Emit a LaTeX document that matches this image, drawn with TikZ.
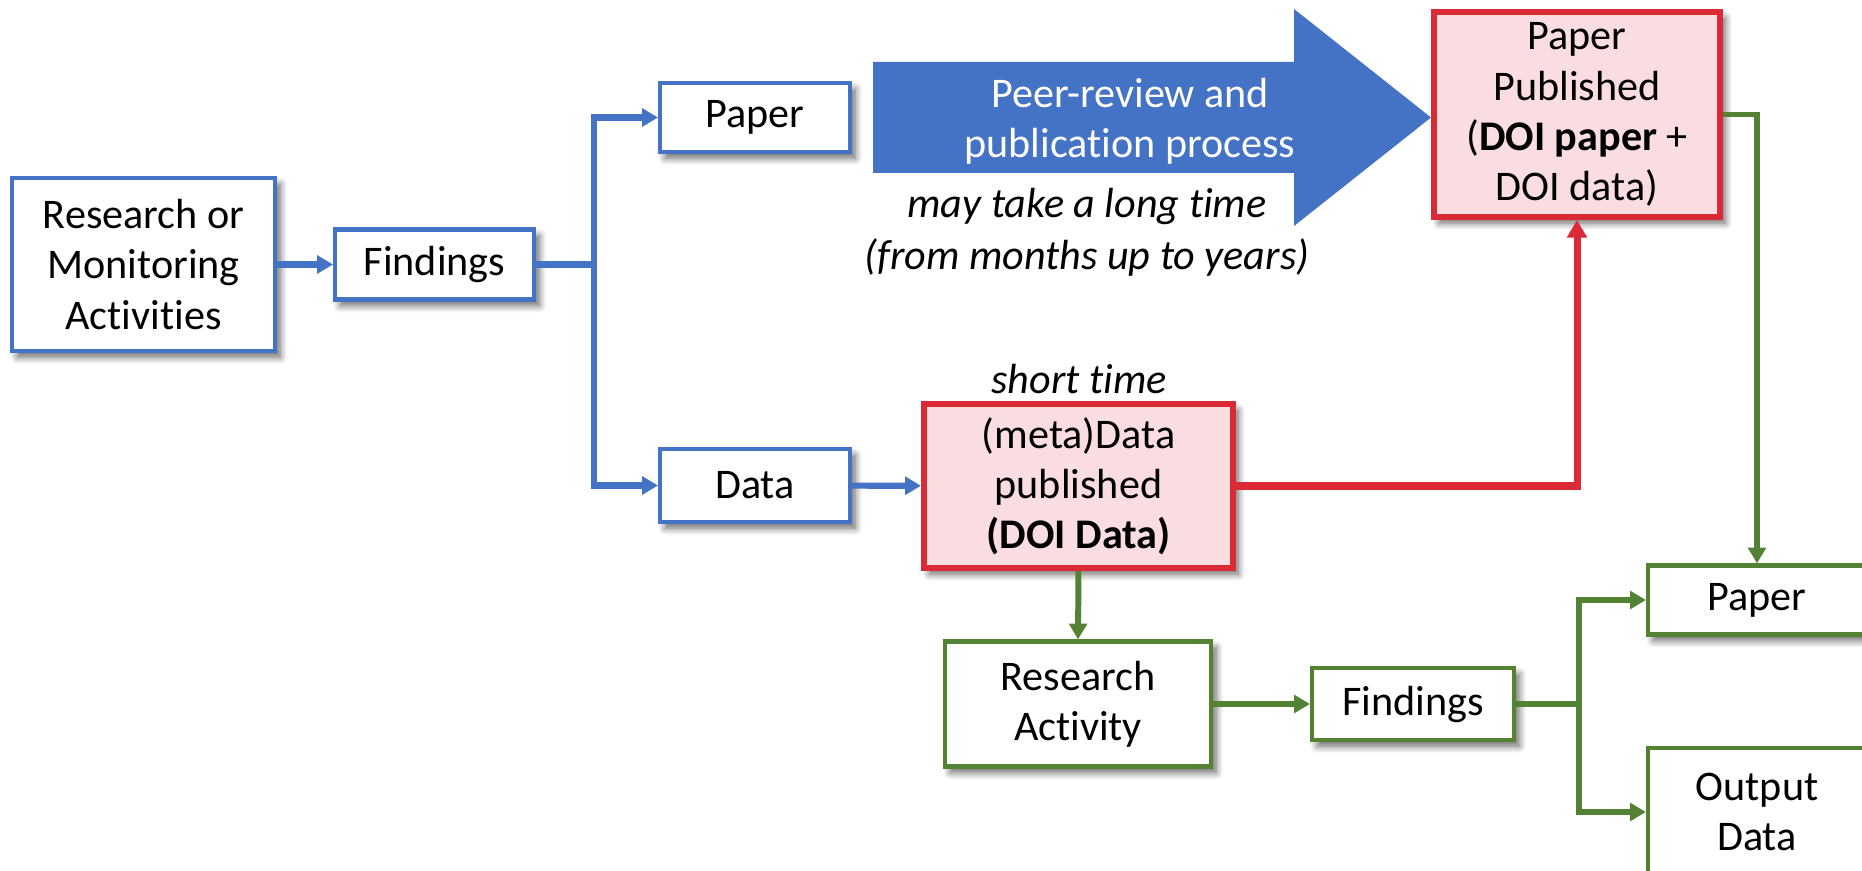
\documentclass[tikz,border=0pt]{standalone}
\usepackage{fontspec}
\setmainfont{Carlito}[Ligatures={NoCommon}]
\usetikzlibrary{arrows.meta,shadows.blur}
\definecolor{myblue}{HTML}{4472C4}
\definecolor{myred}{HTML}{DA2A35}
\definecolor{mypink}{HTML}{F9DDE1}
\definecolor{mygreen}{HTML}{548235}
\tikzset{
  txt/.style={align=center, inner sep=0pt, font=\fontsize{24}{28.5}\selectfont},
  itxt/.style={align=center, inner sep=0pt, font=\fontsize{24}{29.5}\selectfont\itshape},
  boxbase/.style={txt, blur shadow={shadow xshift=3pt, shadow yshift=-3.5pt, shadow blur radius=4pt, shadow blur steps=8, shadow opacity=60}},
  bluebox/.style={boxbase, draw=myblue, line width=2.3pt, fill=white},
  redbox/.style={boxbase, draw=myred, line width=3.5pt, fill=mypink},
  greenbox/.style={boxbase, draw=mygreen, line width=2.4pt, fill=white},
  blueline/.style={draw=myblue, line width=3.5pt},
  bluearrow/.style={blueline, -{Triangle[length=9pt,width=10pt]}},
  redarrow/.style={draw=myred, line width=4pt, -{Triangle[length=10pt,width=11pt]}},
  greenline/.style={draw=mygreen, line width=3.4pt},
  greenarrow/.style={greenline, -{Triangle[length=9pt,width=10pt]}},
}
\begin{document}
\begin{tikzpicture}[x=0.02cm, y=-0.02cm]
\useasboundingbox (0,0) rectangle (1862,871);
\begin{scope}[overlay]
\clip (0,0) rectangle (1862,871);
% left blue part
\node[bluebox, minimum width=5.26cm, minimum height=3.46cm] (rma) at (143.5,264.5) {Research or\\Monitoring\\Activities};
\node[bluebox, minimum width=3.98cm, minimum height=1.4cm] (find1) at (434.5,264.5) {Findings};
\node[bluebox, minimum width=3.8cm, minimum height=1.38cm] (paper1) at (755,117.5) {Paper};
\node[bluebox, minimum width=3.8cm, minimum height=1.46cm] (data1) at (755,485.5) {Data};
\coordinate (j1) at (594,264.5);
\draw[bluearrow] (rma) -- (find1);
\draw[blueline] (find1.east) -- (j1);
\draw[bluearrow] (j1) |- (paper1.west);
\draw[bluearrow] (j1) |- (data1.west);
% big arrow
\fill[myblue] (873,62) -- (1294,62) -- (1294,9) -- (1431,117.5) -- (1294,226) -- (1294,173) -- (873,173) -- cycle;
\node[txt, text=white] (peer) at (1130,121) {Peer-review and\\publication process};
\node[itxt] (long) at (1087,232) {may take a long time\\(from months up to years)};
% red boxes
\node[redbox, minimum width=5.72cm, minimum height=4.1cm] (pub) at (1577,114.5) {Paper\\Published\\(\textbf{DOI paper} +\\DOI data)};
\node[redbox, minimum width=6.18cm, minimum height=3.28cm] (meta) at (1078.5,486) {(meta)Data\\published\\\textbf{(DOI Data)}};
\node[itxt] (short) at (1079,379) {short time};
\draw[bluearrow] (data1) -- (meta);
\draw[redarrow] (meta.east) -| (pub.south);
% green part
\node[greenbox, minimum width=5.32cm, minimum height=2.5cm] (ra) at (1078,704) {Research\\Activity};
\node[greenbox, minimum width=4.04cm, minimum height=1.44cm] (find2) at (1413,704) {Findings};
\node[greenbox, minimum width=4.36cm, minimum height=1.38cm] (gpaper) at (1757,600) {Paper};
\node[greenbox, minimum width=4.36cm, minimum height=2.56cm] (out) at (1757,812) {Output\\Data};
\coordinate (j2) at (1579,704);
\draw[greenarrow] (pub.east) -| (gpaper.north);
\draw[greenarrow] (meta.south) -- (ra.north);
\draw[greenarrow] (ra) -- (find2);
\draw[greenline] (find2.east) -- (j2);
\draw[greenarrow] (j2) |- (gpaper.west);
\draw[greenarrow] (j2) |- (out.west);
\end{scope}
\end{tikzpicture}
\end{document}
